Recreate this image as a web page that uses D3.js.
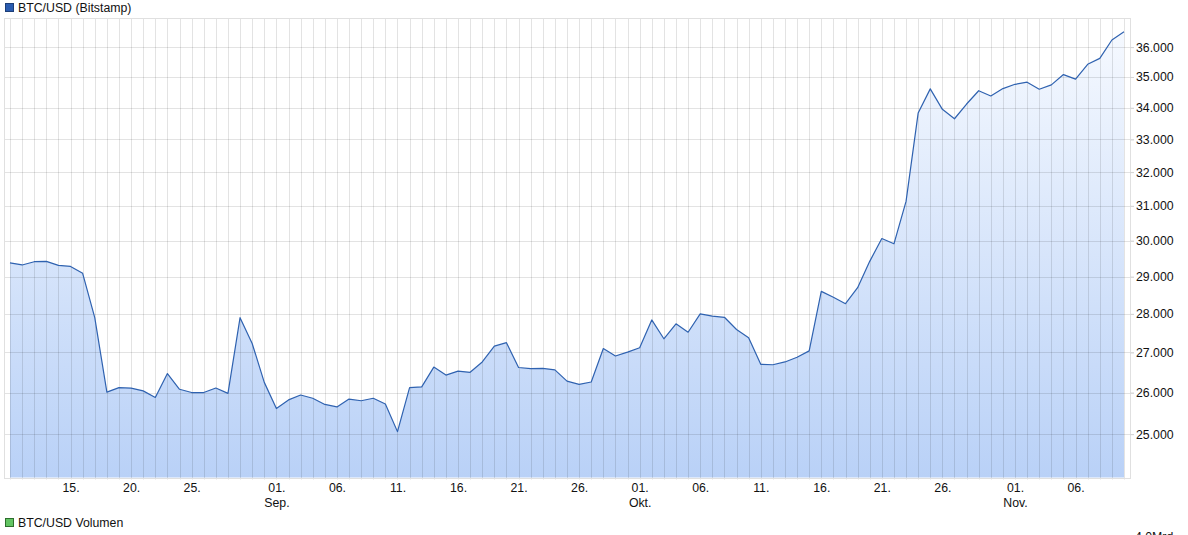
<!DOCTYPE html>
<html><head><meta charset="utf-8">
<script src="https://cdn.jsdelivr.net/npm/d3@7"></script>
<style>
html,body{margin:0;padding:0;background:#fff;overflow:hidden;}
svg{display:block;font-family:"Liberation Sans",Arial,sans-serif;}
</style></head>
<body>
<svg id="chart" width="1188" height="535"></svg>
<script>
// ---- data ----
const startDate = "2023-08-10";
const closeValues = [
 29380,29320,29410,29420,29310,29280,29090,27900,26010,26120,
 26110,26040,25880,26470,26080,26000,26000,26110,25980,27900,
 27230,26250,25610,25820,25940,25860,25710,25650,25840,25800,
 25860,25720,25060,26120,26140,26630,26430,26530,26500,26760,
 27160,27250,26620,26590,26600,26560,26280,26200,26260,27100,
 26910,27010,27120,27840,27350,27740,27520,28000,27940,27910,
 27590,27380,26700,26690,26760,26880,27040,28600,28440,28270,
 28700,29420,30060,29910,31130,33830,34610,33950,33650,34120,
 34550,34380,34620,34760,34830,34600,34740,35080,34930,35420,
 35620,36240,36520
];
const yTicks = [25000,26000,27000,28000,29000,30000,31000,32000,33000,34000,35000,36000];
const xTickDates = ["2023-08-15","2023-08-20","2023-08-25","2023-09-01","2023-09-06","2023-09-11",
  "2023-09-16","2023-09-21","2023-09-26","2023-10-01","2023-10-06","2023-10-11","2023-10-16",
  "2023-10-21","2023-10-26","2023-11-01","2023-11-06"];
const monthNames = ["Jan.","Feb.","Mär.","Apr.","Mai","Jun.","Jul.","Aug.","Sep.","Okt.","Nov.","Dez."];
const seriesName = "BTC/USD (Bitstamp)";
const volumeName = "BTC/USD Volumen";
const volumeTopLabel = "4,0Mrd";

// ---- build ----
const FONT = "'Liberation Sans',Arial,sans-serif";
const FS = "12.3px";
const parse = d3.utcParse("%Y-%m-%d");
const t0 = parse(startDate);
const data = closeValues.map((v,i)=>({date:d3.utcDay.offset(t0,i), value:v}));
const t1 = data[data.length-1].date;

const svg = d3.select("#chart");
const box = {left:4, right:1130, top:18, bottom:477.5};
const x = d3.scaleUtc().domain([t0,t1]).range([10,1124]);
const y = d3.scaleLog().domain([24000,37000]).range([box.bottom, box.top]);
const de = d3.formatLocale({decimal:",",thousands:".",grouping:[3],currency:["","€"]});
const fmt = de.format(",d");

const defs = svg.append("defs");
const grad = defs.append("linearGradient").attr("id","fillGrad")
  .attr("gradientUnits","userSpaceOnUse").attr("x1",0).attr("x2",0)
  .attr("y1",box.top).attr("y2",box.bottom);
grad.append("stop").attr("offset","0%").attr("stop-color","#f7faff");
grad.append("stop").attr("offset","100%").attr("stop-color","#b9d1f7");

// area
const area = d3.area().x(d=>x(d.date)).y0(box.bottom).y1(d=>y(d.value));
svg.append("path").datum(data).attr("d",area).attr("fill","url(#fillGrad)");

// grid
const GRID = "rgba(0,0,0,0.11)";
const grid = svg.append("g").attr("class","grid");
const days = d3.utcDay.range(t0, d3.utcDay.offset(t1,1));
grid.selectAll("line.v").data(days).join("line").attr("class","v")
  .attr("x1",d=>Math.round(x(d))+0.5).attr("x2",d=>Math.round(x(d))+0.5)
  .attr("y1",box.top).attr("y2",box.bottom+2)
  .attr("stroke",GRID).attr("stroke-width",1);
grid.selectAll("line.h").data(yTicks).join("line").attr("class","h")
  .attr("x1",box.left).attr("x2",box.right+4)
  .attr("y1",d=>Math.round(y(d))+0.5).attr("y2",d=>Math.round(y(d))+0.5)
  .attr("stroke",GRID).attr("stroke-width",1);
// frame
svg.append("rect").attr("x",box.left+0.5).attr("y",box.top+0.5)
  .attr("width",box.right-box.left).attr("height",Math.round(box.bottom-box.top))
  .attr("fill","none").attr("stroke","#e0e0e0").attr("stroke-width",1);

// line
const line = d3.line().x(d=>x(d.date)).y(d=>y(d.value));
svg.append("path").datum(data).attr("d",line).attr("fill","none")
  .attr("stroke","#2f62b0").attr("stroke-width",1.2).attr("stroke-linejoin","round");

// y axis (right)
const yAxis = d3.axisRight(y).tickValues(yTicks).tickFormat(fmt).tickSize(4).tickPadding(2);
const gy = svg.append("g").attr("transform",`translate(${box.right},0)`).call(yAxis);
gy.select(".domain").remove();
gy.selectAll(".tick line").attr("stroke","#d4d4d4");
gy.selectAll(".tick text").attr("fill","#111").style("font-size",FS).style("font-family",FONT);

// x axis labels
const xAxis = d3.axisBottom(x).tickValues(xTickDates.map(parse)).tickSize(0).tickPadding(0)
  .tickFormat(d3.utcFormat("%d."));
const gx = svg.append("g").attr("transform",`translate(0,${box.bottom})`).call(xAxis);
gx.select(".domain").remove();
gx.selectAll(".tick text").attr("fill","#111").attr("dy","1.05em").attr("y",2)
  .style("font-size",FS).style("font-family",FONT);
gx.selectAll(".tick").filter(d=>d.getUTCDate()===1).append("text")
  .attr("y",2).attr("dy","2.2em").attr("fill","#111").attr("text-anchor","middle")
  .style("font-size",FS).style("font-family",FONT)
  .text(d=>monthNames[d.getUTCMonth()]);

// legends
function legend(yPos, color, stroke, label){
  svg.append("rect").attr("x",5.5).attr("y",yPos-8.5).attr("width",8).attr("height",8)
    .attr("fill",color).attr("stroke",stroke).attr("stroke-width",1);
  svg.append("text").attr("x",18).attr("y",yPos).attr("fill","#111")
    .style("font-size",FS).style("font-family",FONT).text(label);
}
legend(12, "#2a5cb0", "#1d3f78", seriesName);
legend(527, "#62c462", "#2d6e2d", volumeName);
svg.append("text").attr("x",1135).attr("y",541).attr("fill","#111")
  .style("font-size",FS).style("font-family",FONT).text(volumeTopLabel);
</script>
</body></html>
